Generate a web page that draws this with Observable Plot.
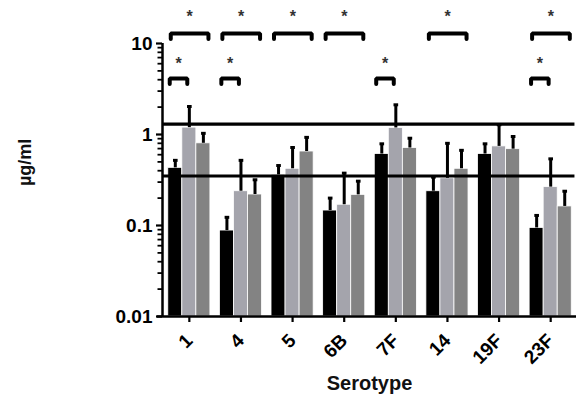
<!DOCTYPE html>
<html>
<head>
<meta charset="utf-8">
<script src="https://cdn.jsdelivr.net/npm/d3@7"></script>
<script src="https://cdn.jsdelivr.net/npm/@observablehq/plot@0.6"></script>
<style>
  html, body { margin: 0; padding: 0; background: #fff; }
  svg { display: block; }
</style>
</head>
<body>
<div id="chart"></div>
<script>
// ---- data ----
const categories = ["1", "4", "5", "6B", "7F", "14", "19F", "23F"];
const seriesNames = ["A", "B", "C"];
const seriesA = [0.43, 0.088, 0.36, 0.146, 0.61, 0.238, 0.61, 0.094];
const seriesAErr = [0.52, 0.123, 0.456, 0.20, 0.79, 0.34, 0.79, 0.129];
const seriesB = [1.19, 0.238, 0.42, 0.169, 1.18, 0.33, 0.74, 0.264];
const seriesBErr = [2.03, 0.52, 0.72, 0.376, 2.12, 0.80, 1.28, 0.54];
const seriesC = [0.80, 0.219, 0.65, 0.217, 0.71, 0.42, 0.69, 0.162];
const seriesCErr = [1.03, 0.318, 0.93, 0.307, 0.91, 0.67, 0.95, 0.238];
const thresholds = [0.35, 1.3];
const yTicksMajor = [0.01, 0.1, 1, 10];
// significance: upper (black vs dark gray), lower (black vs light gray)
const sigUpper = ["1", "4", "5", "6B", "14", "23F"];
const sigLower = ["1", "4", "7F", "23F"];

// ---- build tables ----
const colors = ["#000000", "#a4a4ac", "#838383"];
const barW = 0.272;
const values = [seriesA, seriesB, seriesC];
const errs = [seriesAErr, seriesBErr, seriesCErr];
const rows = [];
categories.forEach((c, i) => {
  seriesNames.forEach((s, k) => {
    const xc = i + (k - 1) * barW;
    rows.push({cat: c, series: s, x1: xc - barW / 2, x2: xc + barW / 2, xc, v: values[k][i], e: errs[k][i], color: colors[k]});
  });
});
const minor = [];
for (let d = 0.01; d < 10; d *= 10) for (let m = 2; m <= 9; m++) minor.push(+(d * m).toPrecision(3));

// brackets (in data coordinates)
const upTop = 12.9, upLeg = 11.2, upStar = 19.5;
const loTop = 4.12, loLeg = 3.6, loStar = 6.0;
const bracketPts = [];
const stars = [];
sigUpper.forEach((c, n) => {
  const i = categories.indexOf(c);
  const a = i - 0.36, b = i + 0.37;
  [[a, upLeg], [a, upTop], [b, upTop], [b, upLeg]].forEach(([x, y]) => bracketPts.push({x, y, z: "u" + n}));
  stars.push({x: (a + b) / 2, y: upStar});
});
sigLower.forEach((c, n) => {
  const i = categories.indexOf(c);
  const a = i - 0.38, b = i - 0.04;
  [[a, loLeg], [a, loTop], [b, loTop], [b, loLeg]].forEach(([x, y]) => bracketPts.push({x, y, z: "l" + n}));
  stars.push({x: (a + b) / 2, y: loStar});
});

const font = "Liberation Sans, Arial, sans-serif";
const xLeft = -0.52, xRight = 7.5;

const chart = Plot.plot({
  width: 576,
  height: 408,
  marginLeft: 162,
  marginRight: 0,
  marginTop: 43,
  marginBottom: 92,
  style: {fontFamily: font, background: "#fff", color: "#000"},
  x: {type: "linear", domain: [xLeft, xRight], axis: null},
  y: {type: "log", domain: [0.01, 10], axis: null},
  marks: [
    Plot.rect(rows, {x1: "x1", x2: "x2", y1: 0.01, y2: "v", fill: "color", stroke: "#fff", strokeWidth: 0.8}),
    // error bars
    Plot.ruleX(rows, {x: "xc", y1: "v", y2: "e", stroke: "#000", strokeWidth: 3}),
    Plot.link(rows, {x1: d => d.xc - 0.045, x2: d => d.xc + 0.045, y1: "e", y2: "e", stroke: "#000", strokeWidth: 3}),
    // threshold lines
    Plot.ruleY(thresholds, {x1: xLeft, x2: 7.47, stroke: "#000", strokeWidth: 3.2}),
    // axes lines
    Plot.ruleX([xLeft], {y1: 0.01, y2: 10, stroke: "#000", strokeWidth: 2.5}),
    Plot.ruleY([0.01], {x1: -0.62, x2: xRight, stroke: "#000", strokeWidth: 2.5}),
    // y ticks
    Plot.axisY({ticks: minor, tickFormat: () => "", tickSize: 4.5, strokeWidth: 1.8, anchor: "left"}),
    Plot.axisY({ticks: yTicksMajor, tickFormat: d => String(d), tickSize: 6, strokeWidth: 2.2, tickPadding: 4,
      anchor: "left", fontSize: 19, fontWeight: "bold", label: null}),
    // x ticks
    Plot.axisX({ticks: d3.range(categories.length), tickFormat: i => categories[i], tickSize: 6, strokeWidth: 2.2,
      tickRotate: -45, tickPadding: 15, fontSize: 19, fontWeight: "bold", label: null, anchor: "bottom"}),
    // brackets & stars
    Plot.line(bracketPts, {x: "x", y: "y", z: "z", stroke: "#000", strokeWidth: 4, strokeLinejoin: "miter", curve: "linear"}),
    Plot.text(stars, {x: "x", y: "y", text: () => "*", fontSize: 16, fill: "#333", fontWeight: "bold"}),
    // axis titles
    Plot.text(["µg/ml"], {frameAnchor: "left", dx: -137, dy: 6, rotate: -90, fontSize: 18, fontWeight: "bold", fill: "#111"}),
    Plot.text(["Serotype"], {frameAnchor: "bottom", dy: 73, fontSize: 20, fill: "#111", fontWeight: "600", letterSpacing: "0.5px"})
  ]
});
document.getElementById("chart").appendChild(chart);
</script>
</body>
</html>
